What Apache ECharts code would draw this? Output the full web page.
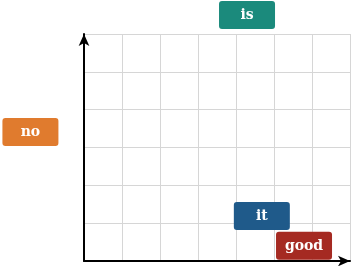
<!DOCTYPE html>
<html>
<head>
<meta charset="utf-8">
<script src="https://cdn.jsdelivr.net/npm/echarts@6/dist/echarts.min.js"></script>
<style>
    html, body { margin: 0; padding: 0; background: #fff; }
    #chart { width: 356px; height: 266px; }
</style>
</head>
<body>
<div id="chart"></div>
<script>
// words and where they sit
const words = ['is', 'no', 'it', 'good'];
const xValues = [4.29, -1.41, 4.68, 5.79];
const yValues = [6.5, 3.41, 1.19, 0.4];
const colors = ['#1b8a7c', '#e07b2e', '#1f5a8a', '#a52a22'];

const myChart = echarts.init(document.getElementById('chart'));

function getSeries() {
    let arr = [];
    words.forEach((w, i) => {
        arr.push({
            name: w,
            type: 'scatter',
            clip: false,
            symbolSize: 0,
            itemStyle: { opacity: 1 },
            data: [[xValues[i], yValues[i]]],
            label: {
                show: true,
                position: 'inside',
                formatter: w,
                color: '#fff',
                opacity: 1,
                fontFamily: 'DejaVu Serif',
                fontWeight: 'bold',
                fontSize: 14,
                backgroundColor: colors[i],
                borderRadius: 3,
                width: 56,
                height: 28,
                lineHeight: 28,
                align: 'center',
                verticalAlign: 'middle'
            }
        });
    });
    return arr;
}

const axisLine = {
    show: true,
    symbol: ['none', 'arrow'],
    symbolSize: [8, 12],
    lineStyle: { color: '#000', width: 2 }
};
const splitLine = { show: true, lineStyle: { color: '#d6d6d6', width: 1 } };

myChart.setOption({
    animation: false,
    grid: { left: 84, right: 6, top: 34, bottom: 5 },
    xAxis: {
        type: 'value',
        min: 0,
        max: 7,
        interval: 1,
        axisLine: axisLine,
        axisTick: { show: false },
        axisLabel: { show: false },
        splitLine: splitLine
    },
    yAxis: {
        type: 'value',
        min: 0,
        max: 6,
        interval: 1,
        axisLine: axisLine,
        axisTick: { show: false },
        axisLabel: { show: false },
        splitLine: splitLine
    },
    series: getSeries()
});
</script>
</body>
</html>
